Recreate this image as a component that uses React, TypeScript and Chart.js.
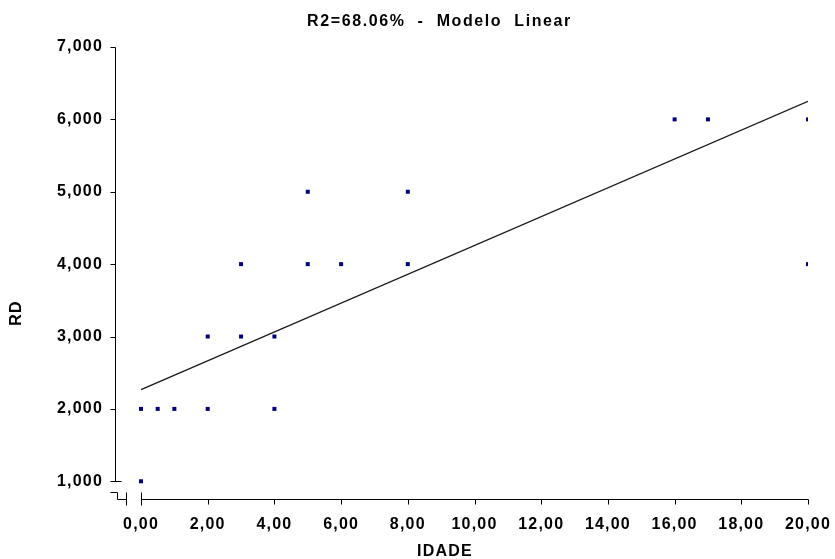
import React, { useEffect, useRef } from 'react';
import { Chart, registerables } from 'chart.js';

Chart.register(...registerables);

// ---- data ----
const idade: number[] = [0, 0, 0.5, 1, 2, 2, 3, 3, 4, 4, 5, 5, 6, 8, 8, 16, 17, 20, 20];
const rd: number[] = [1, 2, 2, 2, 2, 3, 3, 4, 3, 2, 4, 5, 4, 4, 5, 6, 6, 6, 4];
const fitX: number[] = [0, 20];
const fitY: number[] = [2.266, 6.249];
const xTickValues: number[] = [0, 2, 4, 6, 8, 10, 12, 14, 16, 18, 20];
const yTickValues: number[] = [1, 2, 3, 4, 5, 6, 7];
const titleText = 'R2=68.06%  -  Modelo  Linear';
const xTitle = 'IDADE';
const yTitle = 'RD';

const FONT_FAMILY = '"Liberation Sans", Arial, Helvetica, sans-serif';
const SPACING = '1.2px';

const fmt = (v: number, d: number) => v.toFixed(d).replace('.', ',');

const decorPlugin = {
  id: 'decor',
  beforeDraw(chart: any) {
    (chart.ctx as any).letterSpacing = SPACING;
  },
  afterDraw(chart: any) {
    const ctx = chart.ctx as CanvasRenderingContext2D;
    const xs = chart.scales.x;
    const ys = chart.scales.y;
    const ax = Math.round(chart.chartArea.left) + 0.5;
    const ay = Math.round(chart.chartArea.bottom) + 0.5;
    const yTop = Math.round(ys.getPixelForValue(yTickValues[yTickValues.length - 1])) + 0.5;
    const yBot = Math.round(ys.getPixelForValue(yTickValues[0])) + 0.5;
    const x0 = Math.round(xs.getPixelForValue(xTickValues[0])) + 0.5;
    const xEnd = Math.round(xs.getPixelForValue(xTickValues[xTickValues.length - 1])) + 0.5;

    ctx.save();
    ctx.strokeStyle = '#000';
    ctx.lineWidth = 1;
    const seg = (pts: number[][]) => {
      ctx.beginPath();
      ctx.moveTo(pts[0][0], pts[0][1]);
      for (let i = 1; i < pts.length; i++) ctx.lineTo(pts[i][0], pts[i][1]);
      ctx.stroke();
    };
    // y axis
    seg([[ax, yTop], [ax, yBot]]);
    yTickValues.forEach((v, i) => {
      const py = Math.round(ys.getPixelForValue(v)) + 0.5;
      seg([[ax - 5, py], [i === 0 ? ax + 6 : ax, py]]);
    });
    // break symbol
    seg([[ax - 5, ay - 7], [ax + 2, ay - 7], [ax + 2, ay], [ax + 11, ay]]);
    seg([[ax + 11, ay - 7], [ax + 11, ay + 6]]);
    // x axis
    seg([[x0, ay - 7], [x0, ay + 6]]);
    seg([[x0, ay], [xEnd, ay]]);
    xTickValues.forEach((v, i) => {
      if (i === 0) return;
      const px = Math.round(xs.getPixelForValue(v)) + 0.5;
      seg([[px, ay], [px, ay + 5]]);
    });

    // texts
    ctx.fillStyle = '#000';
    ctx.font = `bold 16px ${FONT_FAMILY}`;
    ctx.textAlign = 'center';
    ctx.textBaseline = 'middle';
    (ctx as any).letterSpacing = '1.6px';
    ctx.fillText(titleText, 439.5, 21.5);
    (ctx as any).letterSpacing = SPACING;
    ctx.fillText(xTitle, 445, 552);
    ctx.translate(17, 313.5);
    ctx.rotate(-Math.PI / 2);
    ctx.fillText(yTitle, 0.5, 0);
    ctx.restore();
    (ctx as any).letterSpacing = '0px';
  },
};

export default function App() {
  const canvasRef = useRef<HTMLCanvasElement | null>(null);

  useEffect(() => {
    const canvas = canvasRef.current;
    if (!canvas) return;
    const tickFont = { family: FONT_FAMILY, size: 16, weight: 'bold' as const };
    const chart = new Chart(canvas, {
      type: 'scatter',
      data: {
        datasets: [
          {
            label: 'RD',
            data: idade.map((x, i) => ({ x, y: rd[i] })),
            backgroundColor: '#000080',
            borderColor: '#000080',
            borderWidth: 0,
            pointStyle: 'rect',
            pointRadius: 2.83,
            order: 0,
          },
          {
            label: 'Linear',
            data: fitX.map((x, i) => ({ x, y: fitY[i] })),
            showLine: true,
            borderColor: '#1a1a1a',
            borderWidth: 1.3,
            pointRadius: 0,
            fill: false,
            order: 1,
          },
        ],
      },
      options: {
        responsive: false,
        animation: false,
        devicePixelRatio: 1,
        layout: { padding: { top: 47, right: 27, left: 0, bottom: 0 } },
        plugins: {
          legend: { display: false },
          title: { display: false },
          tooltip: { enabled: false },
        },
        scales: {
          x: {
            type: 'linear',
            min: -0.78,
            max: 20,
            afterBuildTicks: (s: any) => {
              s.ticks = xTickValues.map((value) => ({ value }));
            },
            afterFit: (s: any) => {
              s.height = 60;
              s.paddingLeft = 0;
              s.paddingRight = 0;
            },
            grid: { display: false },
            border: { display: false },
            ticks: {
              color: '#000',
              font: tickFont,
              padding: 8,
              maxRotation: 0,
              autoSkip: false,
              callback: (v: any) => fmt(Number(v), 2),
            },
          },
          y: {
            type: 'linear',
            min: 0.755,
            max: 7,
            afterBuildTicks: (s: any) => {
              s.ticks = yTickValues.map((value) => ({ value }));
            },
            afterFit: (s: any) => {
              s.width = 115;
              s.paddingTop = 0;
              s.paddingBottom = 0;
            },
            grid: { display: false },
            border: { display: false },
            ticks: {
              color: '#000',
              font: tickFont,
              padding: 4,
              autoSkip: false,
              callback: (v: any) => fmt(Number(v), 3),
            },
          },
        },
      } as any,
      plugins: [decorPlugin],
    });
    return () => chart.destroy();
  }, []);

  return (
    <div style={{ position: 'absolute', left: 0, top: 0, width: 835, height: 559, background: '#fff' }}>
      <canvas ref={canvasRef} width={835} height={559} style={{ display: 'block', width: 835, height: 559 }} />
    </div>
  );
}
